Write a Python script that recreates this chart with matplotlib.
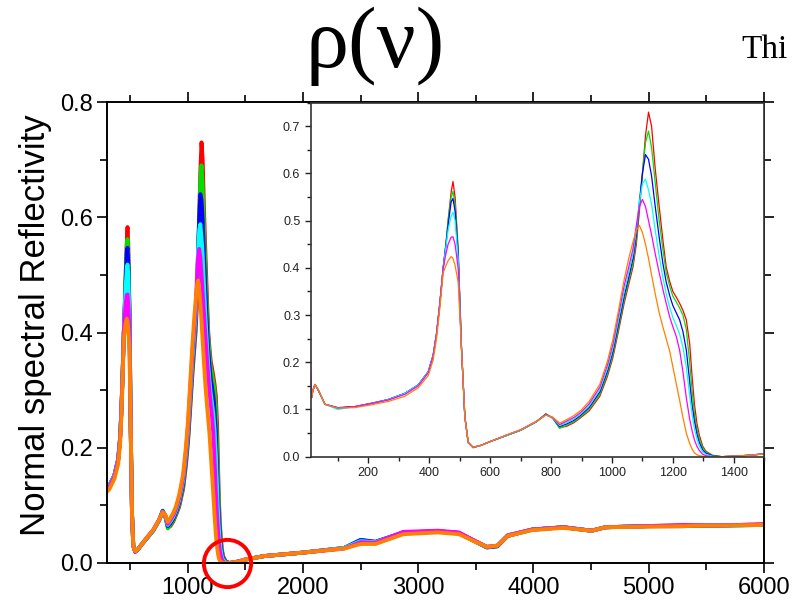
import matplotlib
matplotlib.use('Agg')
import matplotlib.pyplot as plt
from matplotlib.ticker import MultipleLocator

# wavenumber grid (cm-1) shared by all six spectra
wn = [10, 14, 18, 25, 35, 58, 100, 156, 211, 265, 320, 364, 397, 413, 424, 435, 446,
      455, 462, 472, 478, 485, 495, 506, 517, 528, 544, 570, 600, 650, 700, 752, 783,
      805, 828, 850, 875, 898, 925, 960, 985, 1003, 1020, 1040, 1055, 1069, 1080,
      1090, 1100, 1110, 1120, 1130, 1142, 1155, 1167, 1178, 1190, 1200, 1211, 1222,
      1233, 1244, 1255, 1263, 1271, 1279, 1287, 1298, 1309, 1330, 1360, 1400,
      1450, 1500, 1665, 2000, 2357, 2500, 2629, 2871, 3172, 3354, 3505, 3596,
      3687, 3777, 3989, 4261, 4503, 4624, 4987, 5300, 5591, 5984, 6000]

red = [0.13, 0.125, 0.14, 0.153, 0.142, 0.111, 0.103, 0.106, 0.113, 0.121, 0.134, 0.152, 0.180, 0.215, 0.26, 0.325, 0.40,
       0.45, 0.50, 0.56, 0.583, 0.55, 0.44, 0.23, 0.085, 0.030, 0.020, 0.024, 0.032, 0.044, 0.056, 0.074, 0.090,
       0.082, 0.062, 0.064, 0.072, 0.083, 0.097, 0.128, 0.170, 0.210, 0.262, 0.325, 0.365, 0.402, 0.450,
       0.520, 0.600, 0.680, 0.730, 0.700, 0.610, 0.530, 0.460, 0.402, 0.370, 0.350, 0.338, 0.325,
       0.310, 0.290, 0.240, 0.170, 0.110, 0.070, 0.045, 0.022, 0.011, 0.003, 0.000, 0.001,
       0.003, 0.006, 0.012, 0.018, 0.026, 0.037, 0.034, 0.052, 0.055, 0.052, 0.037, 0.028,
       0.030, 0.048, 0.058, 0.062, 0.056, 0.062, 0.064, 0.064, 0.065, 0.067, 0.067]

green = [0.13, 0.125, 0.14, 0.153, 0.142, 0.111, 0.103, 0.106, 0.113, 0.121, 0.134, 0.152, 0.180, 0.215, 0.26, 0.325, 0.40,
         0.45, 0.50, 0.55, 0.562, 0.535, 0.435, 0.23, 0.085, 0.030, 0.020, 0.024, 0.032, 0.044, 0.056, 0.074, 0.091,
         0.082, 0.060, 0.066, 0.074, 0.085, 0.100, 0.132, 0.175, 0.216, 0.268, 0.332, 0.372, 0.410, 0.460,
         0.530, 0.600, 0.665, 0.690, 0.655, 0.580, 0.500, 0.440, 0.390, 0.360, 0.340, 0.328, 0.315,
         0.300, 0.270, 0.200, 0.140, 0.090, 0.058, 0.038, 0.019, 0.009, 0.002, 0.000, 0.001,
         0.003, 0.006, 0.012, 0.018, 0.026, 0.040, 0.036, 0.053, 0.055, 0.052, 0.036, 0.027,
         0.029, 0.047, 0.058, 0.062, 0.056, 0.062, 0.064, 0.064, 0.065, 0.066, 0.067]

blue = [0.13, 0.125, 0.14, 0.153, 0.142, 0.111, 0.104, 0.106, 0.113, 0.121, 0.134, 0.152, 0.180, 0.215, 0.26, 0.325, 0.40,
        0.45, 0.49, 0.54, 0.547, 0.52, 0.43, 0.23, 0.085, 0.030, 0.019, 0.024, 0.032, 0.044, 0.056, 0.074, 0.090,
        0.082, 0.064, 0.069, 0.077, 0.088, 0.104, 0.137, 0.181, 0.223, 0.276, 0.340, 0.380, 0.420, 0.470,
        0.540, 0.600, 0.640, 0.630, 0.595, 0.530, 0.465, 0.410, 0.370, 0.340, 0.320, 0.305, 0.290,
        0.265, 0.226, 0.160, 0.110, 0.075, 0.048, 0.030, 0.014, 0.007, 0.002, 0.000, 0.001,
        0.003, 0.006, 0.012, 0.018, 0.026, 0.040, 0.037, 0.053, 0.055, 0.052, 0.036, 0.027,
        0.029, 0.047, 0.058, 0.062, 0.056, 0.062, 0.064, 0.064, 0.065, 0.066, 0.067]

cyan = [0.13, 0.125, 0.14, 0.153, 0.142, 0.111, 0.100, 0.106, 0.113, 0.121, 0.134, 0.152, 0.180, 0.215, 0.26, 0.325, 0.40,
        0.445, 0.48, 0.51, 0.518, 0.50, 0.42, 0.23, 0.085, 0.030, 0.020, 0.024, 0.032, 0.044, 0.056, 0.074, 0.089,
        0.082, 0.066, 0.072, 0.080, 0.091, 0.108, 0.142, 0.187, 0.230, 0.285, 0.350, 0.390, 0.430, 0.480,
        0.540, 0.578, 0.588, 0.565, 0.535, 0.480, 0.425, 0.380, 0.345, 0.315, 0.295, 0.278, 0.260,
        0.232, 0.190, 0.130, 0.088, 0.058, 0.037, 0.022, 0.010, 0.005, 0.001, 0.000, 0.001,
        0.003, 0.006, 0.012, 0.018, 0.026, 0.038, 0.036, 0.053, 0.055, 0.052, 0.036, 0.028,
        0.030, 0.048, 0.058, 0.062, 0.056, 0.062, 0.064, 0.066, 0.065, 0.066, 0.067]

magenta = [0.19, 0.125, 0.14, 0.153, 0.142, 0.111, 0.103, 0.106, 0.113, 0.120, 0.132, 0.150, 0.178, 0.213, 0.26, 0.325, 0.40,
           0.43, 0.45, 0.465, 0.466, 0.45, 0.40, 0.23, 0.085, 0.030, 0.020, 0.024, 0.032, 0.045, 0.057, 0.075, 0.089,
           0.083, 0.068, 0.075, 0.083, 0.094, 0.112, 0.147, 0.194, 0.238, 0.295, 0.362, 0.402, 0.440, 0.490,
           0.530, 0.545, 0.530, 0.500, 0.470, 0.430, 0.390, 0.355, 0.325, 0.295, 0.275, 0.255, 0.226,
           0.180, 0.125, 0.080, 0.055, 0.035, 0.022, 0.013, 0.005, 0.002, 0.000, 0.000, 0.001,
           0.003, 0.006, 0.012, 0.018, 0.025, 0.036, 0.035, 0.054, 0.056, 0.053, 0.037, 0.028,
           0.030, 0.048, 0.058, 0.062, 0.056, 0.062, 0.064, 0.066, 0.065, 0.067, 0.067]

orange = [0.13, 0.125, 0.14, 0.153, 0.142, 0.111, 0.103, 0.104, 0.110, 0.117, 0.128, 0.146, 0.172, 0.205, 0.25, 0.315, 0.39,
          0.405, 0.415, 0.424, 0.42, 0.405, 0.37, 0.23, 0.085, 0.030, 0.020, 0.024, 0.032, 0.045, 0.057, 0.075, 0.088,
          0.084, 0.071, 0.078, 0.087, 0.098, 0.117, 0.153, 0.202, 0.248, 0.305, 0.375, 0.420, 0.455, 0.480,
          0.490, 0.475, 0.450, 0.420, 0.385, 0.345, 0.305, 0.275, 0.250, 0.222, 0.190, 0.155, 0.120,
          0.083, 0.050, 0.028, 0.016, 0.008, 0.004, 0.002, 0.001, 0.000, 0.000, 0.000, 0.001,
          0.003, 0.006, 0.012, 0.018, 0.025, 0.033, 0.033, 0.050, 0.053, 0.050, 0.036, 0.028,
          0.030, 0.047, 0.057, 0.061, 0.056, 0.062, 0.063, 0.064, 0.065, 0.066, 0.066]

spectra = [red, green, blue, cyan, magenta, orange]
colors = ['#ff0000', '#00e000', '#0000ff', '#00ffff', '#ff00ff', '#ff8000']

plt.rcParams['font.family'] = ['Liberation Sans', 'DejaVu Sans']

fig = plt.figure(figsize=(7.92, 6.04), dpi=100)

# main axes
ax = fig.add_axes([0.1351, 0.0679, 0.8295, 0.7632])
for y, c in zip(spectra, colors):
    ax.plot(wn, y, color=c, lw=2.8, solid_joinstyle='round')
ax.set_xlim(300, 6000)
ax.set_ylim(0, 0.8)
ax.xaxis.set_major_locator(MultipleLocator(1000))
ax.xaxis.set_minor_locator(MultipleLocator(500))
ax.yaxis.set_major_locator(MultipleLocator(0.2))
ax.yaxis.set_minor_locator(MultipleLocator(0.1))
ax.tick_params(which='both', direction='out', width=1.2, labelsize=17, top=True, right=True, pad=3)
ax.tick_params(which='major', length=7)
ax.tick_params(which='minor', length=5)
ax.set_xticks([1000, 2000, 3000, 4000, 5000, 6000])
ax.set_yticks([0.0, 0.2, 0.4, 0.6, 0.8])
ax.set_yticklabels(['0.0', '0.2', '0.4', '0.6', '0.8'])
for s in ax.spines.values():
    s.set_linewidth(1.4)
ax.set_ylabel('Normal spectral Reflectivity', fontsize=25)
ax.yaxis.set_label_coords(-0.083, 0.515)

# red circle marking the zero crossing
ax.plot([1340], [0.0], marker='o', ms=34, mfc='none', mec='#ff0000', mew=2.8, clip_on=False, zorder=10)

# inset: zoom on the low-wavenumber region
axi = fig.add_axes([0.3923, 0.2439, 0.5727, 0.5861])
for y, c in zip(spectra, colors):
    axi.plot(wn, y, color=c, lw=0.9)
axi.set_xlim(11, 1500)
axi.set_ylim(0, 0.75)
axi.xaxis.set_major_locator(MultipleLocator(200))
axi.xaxis.set_minor_locator(MultipleLocator(100))
axi.yaxis.set_major_locator(MultipleLocator(0.1))
axi.yaxis.set_minor_locator(MultipleLocator(0.05))
axi.tick_params(which='both', direction='out', labelsize=9, width=1.0, colors='#222222')
axi.tick_params(which='major', length=4)
axi.tick_params(which='minor', length=3)
for s in axi.spines.values():
    s.set_linewidth(1.2)
    s.set_color('#333333')

# title and cut-off text on the right
fig.text(0.474, 0.924, 'ρ(ν)', fontsize=62, family='Liberation Serif', ha='center', va='center')
fig.text(0.936, 0.918, 'Thi', fontsize=24, family='Liberation Serif', ha='left', va='center')

fig.savefig('out.png', dpi=100)
